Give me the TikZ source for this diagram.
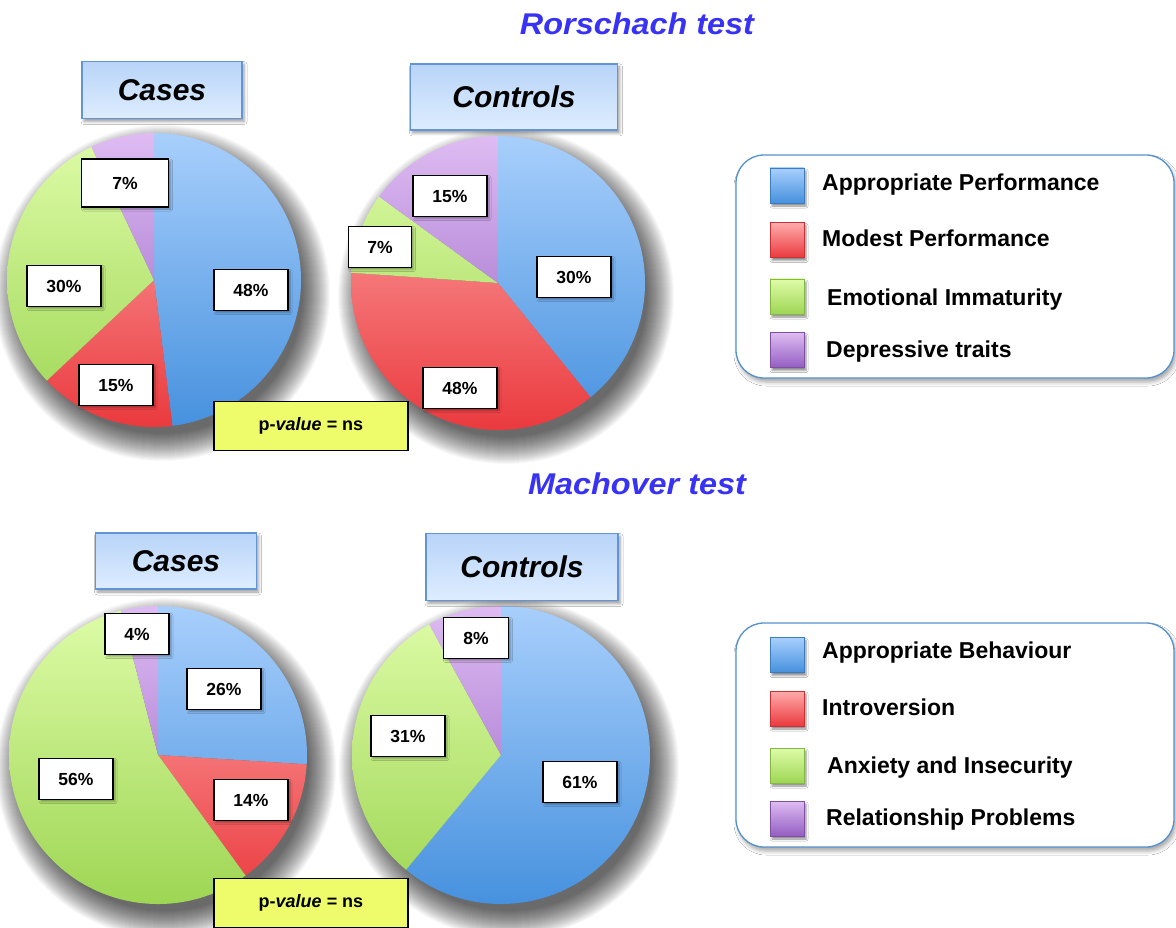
\documentclass[tikz,border=0pt]{standalone}
\usepackage{fontspec}
\setmainfont{Liberation Sans}
\usetikzlibrary{shadows.blur}

\definecolor{blueT}{RGB}{168,207,252}
\definecolor{blueB}{RGB}{70,145,222}
\definecolor{redT}{RGB}{255,172,172}
\definecolor{redB}{RGB}{234,58,62}
\definecolor{greenT}{RGB}{222,252,168}
\definecolor{greenB}{RGB}{158,214,84}
\definecolor{purpT}{RGB}{222,188,242}
\definecolor{purpB}{RGB}{148,94,194}
\definecolor{titleblue}{RGB}{55,50,245}
\definecolor{hdrT}{RGB}{184,212,248}
\definecolor{hdrB}{RGB}{222,237,255}
\definecolor{hdrline}{RGB}{98,148,214}
\definecolor{pyellow}{RGB}{238,252,108}
\definecolor{legline}{RGB}{85,145,205}

% one slice of a pie, shaded from top to bottom across the whole disc
% #1 centre, #2 radius, #3 start angle, #4 end angle, #5 top colour, #6 bottom colour
\newcommand\pieslice[6]{%
  \begin{scope}
    \clip (#1) -- ++(#3:#2) arc[start angle=#3, end angle=#4, radius=#2] -- cycle;
    \shade[top color=#5, bottom color=#6] (#1) ++(-#2,-#2) rectangle ++(2*#2,2*#2);
  \end{scope}}

% soft shadow cast towards the lower right of a pie: stacked faint discs
\newcommand\pieshadow[2]{%
  \foreach \k in {0,...,27} {%
    \fill[black, opacity=0.026] (#1) ++(8,-13) circle[radius=#2-6+\k];}}

\tikzset{
  pct/.style={draw=black, line width=1.4pt, fill=white,
    font=\fontsize{17.5}{17.5}\selectfont\bfseries,
    minimum width=74pt, minimum height=41pt, inner sep=0pt,
    blur shadow={shadow xshift=2pt, shadow yshift=-2pt, shadow blur radius=2pt, shadow opacity=35}},
  grp/.style={draw=hdrline, line width=1.2pt, top color=hdrT, bottom color=hdrB,
    font=\fontsize{30}{30}\selectfont\bfseries\itshape, inner sep=0pt,
    blur shadow={shadow xshift=2pt, shadow yshift=-3pt, shadow blur radius=3pt, shadow opacity=40}},
  pbox/.style={draw=black, line width=1.4pt, fill=pyellow,
    font=\fontsize{18}{18}\selectfont\bfseries,
    minimum width=194pt, minimum height=49pt, inner sep=0pt},
  testtitle/.style={text=titleblue, font=\fontsize{30}{30}\selectfont\bfseries\itshape},
  legbox/.style={draw=legline, line width=1.3pt, fill=white, rounded corners=28pt,
    minimum width=438pt, inner sep=0pt,
    blur shadow={shadow xshift=2pt, shadow yshift=-4pt, shadow blur radius=4pt, shadow opacity=35}},
  swatch/.style={minimum width=34pt, minimum height=35pt, inner sep=0pt, line width=0.8pt,
    blur shadow={shadow xshift=2pt, shadow yshift=-3pt, shadow blur radius=2pt, shadow opacity=45}},
  sblue/.style={swatch, draw=blueB!85!black, top color=blueT, bottom color=blueB},
  sred/.style={swatch, draw=redB!85!black, top color=redT, bottom color=redB},
  sgreen/.style={swatch, draw=greenB!85!black, top color=greenT, bottom color=greenB},
  spurp/.style={swatch, draw=purpB!85!black, top color=purpT, bottom color=purpB},
  legtext/.style={anchor=west, font=\fontsize{23}{23}\selectfont\bfseries, inner sep=0pt},
}

\begin{document}
\begin{tikzpicture}[x=1pt, y=1pt]
\useasboundingbox (0,0) rectangle (1176,-928);
\clip (0,0) rectangle (1176,-928);
\fill[white] (0,0) rectangle (1176,-928);

% ---------------- Rorschach test ----------------
\node[testtitle] (rtitle) at (637,-24) {\scalebox{1.08}[1]{Rorschach test}};

% cases
\coordinate (rc) at (154,-280);
\pieshadow{rc}{147}
\pieslice{rc}{147}{90}{-82.8}{blueT}{blueB}
\pieslice{rc}{147}{-82.8}{-136.8}{redT}{redB}
\pieslice{rc}{147}{-136.8}{-244.8}{greenT}{greenB}
\pieslice{rc}{147}{-244.8}{-270}{purpT}{purpB}

% controls
\coordinate (rk) at (498,-283);
\pieshadow{rk}{147}
\pieslice{rk}{147}{90}{-51}{blueT}{blueB}
\pieslice{rk}{147}{-51}{-184}{redT}{redB}
\pieslice{rk}{147}{-184}{-216}{greenT}{greenB}
\pieslice{rk}{147}{-216}{-270}{purpT}{purpB}

\node[grp, minimum width=160pt, minimum height=57pt] (rcases) at (162,-90) {Cases};
\node[grp, minimum width=207pt, minimum height=66pt] (rcontrols) at (514,-97) {Controls};

\node[pct, minimum width=87pt, minimum height=48pt] (rc7) at (125,-183) {7\%};
\node[pct] (rc48) at (251,-290) {48\%};
\node[pct] (rc30) at (64,-286) {30\%};
\node[pct] (rc15) at (116,-385) {15\%};

\node[pct] (rk15) at (450,-196) {15\%};
\node[pct, minimum width=63pt] (rk7) at (380,-247) {7\%};
\node[pct] (rk30) at (574,-277) {30\%};
\node[pct] (rk48) at (460,-388) {48\%};

\node[pbox] (rp) at (311,-426) {p-\textit{value} = ns};

% legend
\node[legbox, minimum height=223pt] (rleg) at (955,-266.5) {};
\node[sblue]  (rsw1) at (787,-185.5) {};
\node[sred]   (rsw2) at (787,-240) {};
\node[sgreen] (rsw3) at (787,-296.5) {};
\node[spurp]  (rsw4) at (787,-350) {};
\node[legtext] (rl1) at (822,-185) {Appropriate Performance};
\node[legtext] (rl2) at (822,-238) {Modest Performance};
\node[legtext] (rl3) at (827,-300) {Emotional Immaturity};
\node[legtext] (rl4) at (826,-352) {Depressive traits};

% ---------------- Machover test ----------------
\node[testtitle] (mtitle) at (637,-484) {\scalebox{1.08}[1]{Machover test}};

% cases
\coordinate (mc) at (158,-755);
\pieshadow{mc}{149}
\pieslice{mc}{149}{90}{-3.6}{blueT}{blueB}
\pieslice{mc}{149}{-3.6}{-54}{redT}{redB}
\pieslice{mc}{149}{-54}{-255.6}{greenT}{greenB}
\pieslice{mc}{149}{-255.6}{-270}{purpT}{purpB}

% controls
\coordinate (mk) at (501,-755);
\pieshadow{mk}{149}
\pieslice{mk}{149}{90}{-129.6}{blueT}{blueB}
\pieslice{mk}{149}{-129.6}{-241.2}{greenT}{greenB}
\pieslice{mk}{149}{-241.2}{-270}{purpT}{purpB}

\node[grp, minimum width=161pt, minimum height=56pt] (mcases) at (176,-561) {Cases};
\node[grp, minimum width=192pt, minimum height=67pt] (mcontrols) at (522,-567) {Controls};

\node[pct, minimum width=64pt] (mc4) at (137,-634) {4\%};
\node[pct] (mc26) at (224,-689) {26\%};
\node[pct] (mc56) at (76,-779) {56\%};
\node[pct] (mc14) at (251,-800) {14\%};

\node[pct, minimum width=65pt] (mk8) at (476,-638) {8\%};
\node[pct] (mk31) at (408,-736) {31\%};
\node[pct] (mk61) at (580,-782) {61\%};

\node[pbox] (mp) at (311,-903) {p-\textit{value} = ns};

% legend
\node[legbox, minimum height=224pt] (mleg) at (955,-735) {};
\node[sblue]  (msw1) at (787,-655) {};
\node[sred]   (msw2) at (787,-708.5) {};
\node[sgreen] (msw3) at (787,-765.5) {};
\node[spurp]  (msw4) at (787,-818.5) {};
\node[legtext] (ml1) at (822,-653) {Appropriate Behaviour};
\node[legtext] (ml2) at (822,-707) {Introversion};
\node[legtext] (ml3) at (827,-768) {Anxiety and Insecurity};
\node[legtext] (ml4) at (826,-820) {Relationship Problems};
\end{tikzpicture}
\end{document}
